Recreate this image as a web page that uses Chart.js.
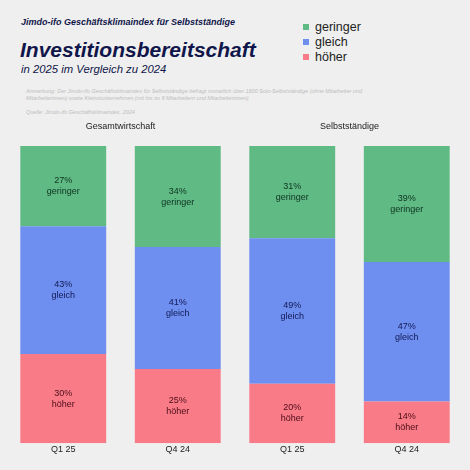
<!DOCTYPE html>
<html>
<head>
<meta charset="utf-8">
<script src="https://cdn.jsdelivr.net/npm/chart.js@4"></script>
<style>
  html, body { margin: 0; padding: 0; background: #efefef; }
  body { width: 470px; height: 470px; position: relative; overflow: hidden; font-family: 'Liberation Sans', Arial, sans-serif; }
  #chartBox { position: absolute; left: 0; top: 0; width: 470px; height: 470px; }
  .txt { position: absolute; white-space: nowrap; }
  #kicker { left: 21px; top: 17px; font-size: 9px; font-weight: bold; font-style: italic; color: #10164a; }
  #title { left: 20px; top: 38px; font-size: 21px; font-weight: bold; font-style: italic; color: #10164a; }
  #subtitle { left: 21px; top: 63px; font-size: 11.3px; font-style: italic; color: #10164a; }
  #note { left: 26px; top: 88px; font-size: 5.5px; line-height: 7px; font-style: italic; color: #bdbdbd; }
  #legend { left: 303px; top: 20px; font-size: 12.5px; color: #222; line-height: 15px; }
  #legend span.box { display: inline-block; width: 6px; height: 6px; margin-right: 6px; vertical-align: 1px; }
</style>
</head>
<body>
<div class="txt" id="kicker">Jimdo-ifo Geschäftsklimaindex für Selbstständige</div>
<div class="txt" id="title">Investitionsbereitschaft</div>
<div class="txt" id="subtitle">in 2025 im Vergleich zu 2024</div>
<div class="txt" id="note">Anmerkung: Der Jimdo-ifo Geschäftsklimaindex für Selbstständige befragt monatlich über 1600 Solo-Selbstständige (ohne Mitarbeiter und<br>Mitarbeiterinnen) sowie Kleinstunternehmen (mit bis zu 9 Mitarbeitern und Mitarbeiterinnen)<br><br>Quelle: Jimdo-ifo Geschäftsklimaindex, 2024</div>
<div class="txt" id="legend"></div>
<div id="chartBox"><canvas id="investChart"></canvas></div>

<script>
// values (percent of respondents)
const categories = ['Q1 25', 'Q4 24', 'Q1 25', 'Q4 24'];
const groups = ['Gesamtwirtschaft', 'Selbstständige'];
const geringer = [27, 34, 31, 39];
const gleich = [43, 41, 49, 47];
const hoeher = [30, 25, 20, 14];

const fontFamily = "'Liberation Sans', Arial, sans-serif";

// stacked bottom-up: höher, gleich, geringer
const datasets = [
    { label: 'höher', data: hoeher, backgroundColor: '#f97b88', textColor: '#4a0d16' },
    { label: 'gleich', data: gleich, backgroundColor: '#6e8ef0', textColor: '#121a52' },
    { label: 'geringer', data: geringer, backgroundColor: '#5fba84', textColor: '#0f3320' }
];

// legend in the top right, top entry first
const legendEl = document.getElementById('legend');
datasets.slice().reverse().forEach(ds => {
    const row = document.createElement('div');
    row.innerHTML = '<span class="box" style="background:' + ds.backgroundColor + '"></span>' + ds.label;
    legendEl.appendChild(row);
});

// value + category text inside each segment
const segmentLabels = {
    id: 'segmentLabels',
    afterDatasetsDraw(chart) {
        const ctx = chart.ctx;
        ctx.save();
        ctx.font = '9px ' + fontFamily;
        ctx.textAlign = 'center';
        ctx.textBaseline = 'middle';
        chart.data.datasets.forEach((ds, i) => {
            chart.getDatasetMeta(i).data.forEach((bar, j) => {
                const mid = (bar.y + bar.base) / 2;
                ctx.fillStyle = ds.textColor;
                ctx.fillText(ds.data[j] + '%', bar.x, mid - 5.5);
                ctx.fillText(ds.label, bar.x, mid + 5.5);
            });
        });
        ctx.restore();
    }
};

// group headings above each pair of bars
const groupTitles = {
    id: 'groupTitles',
    afterDraw(chart) {
        const ctx = chart.ctx;
        const x = chart.scales.x;
        ctx.save();
        ctx.font = '9px ' + fontFamily;
        ctx.fillStyle = '#222';
        ctx.textAlign = 'center';
        ctx.textBaseline = 'middle';
        groups.forEach((g, k) => {
            const cx = (x.getPixelForValue(k * 2) + x.getPixelForValue(k * 2 + 1)) / 2;
            ctx.fillText(g, cx, chart.chartArea.top - 19);
        });
        ctx.restore();
    }
};

const ctx = document.getElementById('investChart').getContext('2d');

new Chart(ctx, {
    type: 'bar',
    data: { labels: categories, datasets: datasets },
    options: {
        responsive: true,
        maintainAspectRatio: false,
        animation: false,
        layout: { padding: { top: 146, bottom: 14, left: 6, right: 6 } },
        datasets: { bar: { categoryPercentage: 1, barPercentage: 0.75, borderWidth: 0 } },
        scales: {
            x: {
                stacked: true,
                grid: { display: false, drawTicks: false },
                border: { display: false },
                ticks: { color: '#222', padding: 1, font: { size: 9, family: fontFamily } }
            },
            y: { stacked: true, min: 0, max: 100, display: false }
        },
        plugins: {
            legend: { display: false },
            tooltip: { enabled: false }
        }
    },
    plugins: [segmentLabels, groupTitles]
});
</script>
</body>
</html>
